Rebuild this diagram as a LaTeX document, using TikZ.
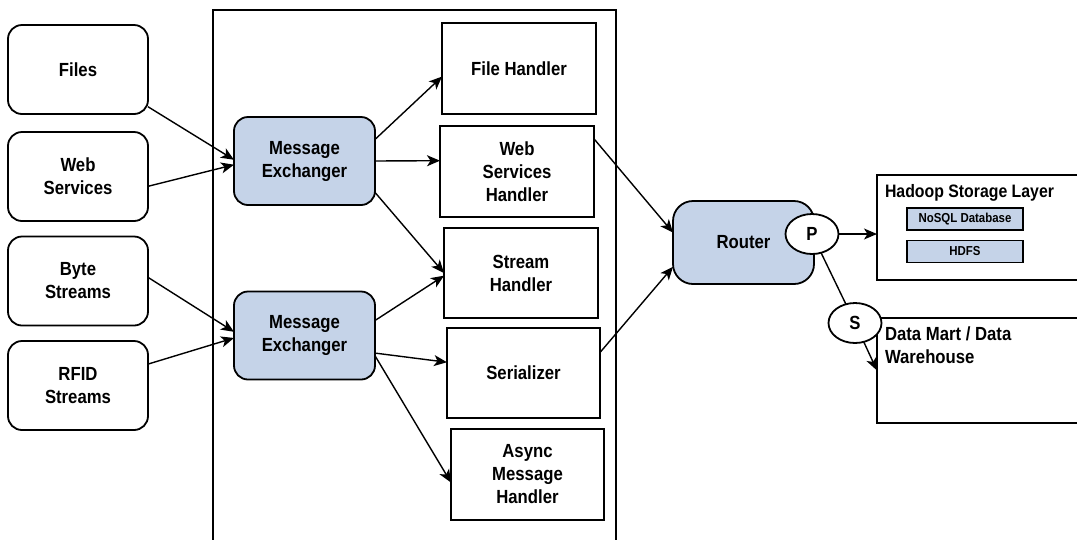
\documentclass[tikz,border=0pt]{standalone}
\usepackage{fontspec}
\setmainfont{Liberation Sans}[FakeStretch=0.88, UprightFont=*-Bold]
\usetikzlibrary{arrows.meta,shapes.geometric}
\definecolor{boxblue}{RGB}{197,211,232}
\begin{document}
\begin{tikzpicture}[x=1pt,y=-1pt,
  every node/.style={inner sep=0pt, outer sep=0pt},
  big/.style={font=\fontsize{19}{23}\selectfont},
  src/.style={big, draw, rounded corners=14pt, line width=1.8pt, minimum width=140pt, minimum height=89pt, align=center},
  exch/.style={src, fill=boxblue, minimum width=141pt, minimum height=88pt},
  hand/.style={big, draw, line width=1.8pt, minimum width=154pt, minimum height=91pt, align=center},
  oval/.style={big, ellipse, draw, fill=white, line width=1.8pt, minimum width=53pt, minimum height=40pt},
  store/.style={draw, line width=1.8pt, minimum width=215pt, minimum height=105pt},
  smallbox/.style={draw, fill=boxblue, line width=1.4pt, minimum width=116pt, minimum height=22pt, font=\fontsize{13}{15}\selectfont},
  lbl/.style={big, anchor=base west},
  conn/.style={line width=1.4pt, -{Stealth[length=13pt,width=11pt,inset=3.5pt]}},
  line/.style={line width=1.4pt}
]
\useasboundingbox (0,0) rectangle (1077,539);

% container
\draw[line width=1.4pt] (213,560) -- (213,10) -- (616,10) -- (616,560);

% sources
\node[src] (files) at (78,69.5) {Files};
\node[src] (web) at (78,176.5) {Web\\Services};
\node[src] (byte) at (78,281) {Byte\\Streams};
\node[src] (rfid) at (78,385.5) {RFID\\Streams};

% exchangers
\node[exch] (me1) at (304.5,161) {Message\\Exchanger};
\node[exch] (me2) at (304.5,335.5) {Message\\Exchanger};

% handlers
\node[hand] (fh) at (519,68.5) {File Handler};
\node[hand] (wsh) at (517,171.5) {Web\\Services\\Handler};
\node[hand, minimum height=90pt] (sh) at (521,273) {Stream\\Handler};
\node[hand, minimum width=153pt, minimum height=90pt] (ser) at (523.5,373) {Serializer};
\node[hand, minimum width=153pt] (async) at (527.5,474.5) {Async\\Message\\Handler};

% router
\node[exch, rounded corners=20pt, minimum height=83pt] (router) at (743.5,242.5) {Router};
\node[oval] (p) at (812,234) {P};

% storage
\node[store] (hadoop) at (984.5,227.5) {};
\node[lbl, font=\fontsize{18}{22}\selectfont] (htitle) at (885,197) {Hadoop Storage Layer};
\node[smallbox] (nosql) at (965,219) {NoSQL Database};
\node[smallbox] (hdfs) at (965,251.5) {HDFS};

\node[store] (dm) at (984.5,370.5) {};
\node[lbl] (dmt1) at (885,340) {Data Mart / Data};
\node[lbl] (dmt2) at (885,363) {Warehouse};
\node[oval] (s) at (855,323) {S};

% connectors
\draw[conn] (files.-28) -- (me1.179);
\draw[conn] (web.-8) -- (me1.-177);
\draw[conn] (byte.3) -- (me2.177);
\draw[conn] (rfid.17) -- (me2.-178);
\draw[conn] (me1.17) -- (fh.186);
\draw[conn] (me1.east) -- (wsh.172);
\draw[conn] (me1.-24) -- (sh.180);
\draw[conn] (me2.12) -- (sh.-178);
\draw[conn] (me2.-14) -- (ser.172);
\draw[conn] (me2.-16) -- (async.186);
\draw[conn] (wsh.23) -- (router.172);
\draw[conn] (ser.15) -- (router.199);
\draw[conn] (p.east) -- (p.east -| hadoop.west);
\draw[line] (p) -- (s);
\draw[conn] (s) -- (dm.west);
\end{tikzpicture}
\end{document}
